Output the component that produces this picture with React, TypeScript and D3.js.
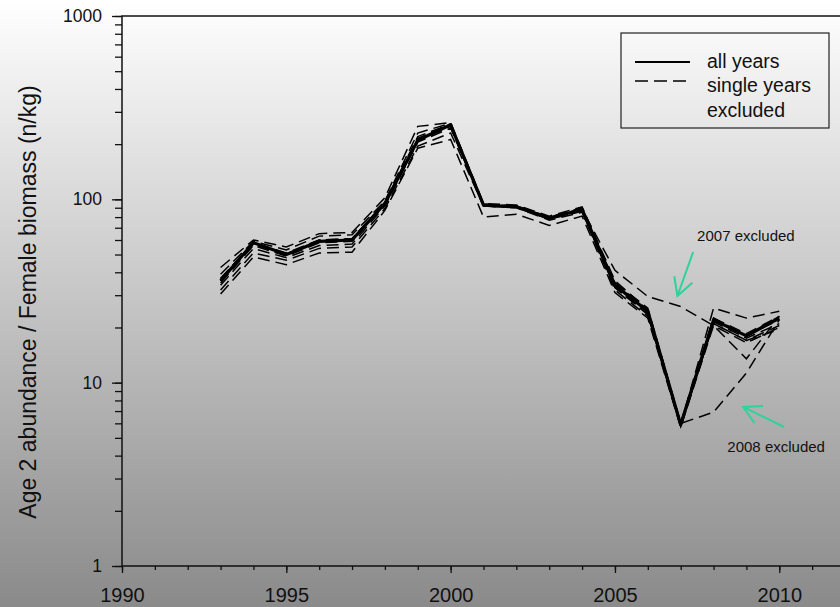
import React, { useEffect, useRef } from "react";
import * as d3 from "d3";

// survey years
const years = [1993, 1994, 1995, 1996, 1997, 1998, 1999, 2000, 2001, 2002, 2003, 2004, 2005, 2006, 2007, 2008, 2009, 2010];

// index using all years
const allYears = [36, 58, 50, 59, 60, 95, 210, 255, 93, 91, 79, 88, 34, 24.5, 5.9, 22, 18, 22.5];

// index with one year left out at a time
const exA = [42.5, 60, 55, 65, 66, 102, 250, 262, 95, 93, 81, 91, 36, 25, 6.0, 22.5, 18.5, 23];
const exB = [39, 59, 53, 63, 64, 98, 230, 260, 94, 92, 80, 90, 35, 25, 6.0, 22, 18, 22];
const exC = [37, 58, 51, 60, 61, 96, 220, 258, 94, 92, 80, 89, 35, 24.5, 6.0, 22.5, 18, 23];
const exD = [34, 54, 48, 56, 57, 92, 205, 245, 93, 91, 78, 87, 33, 24, 5.8, 21.5, 17.5, 21];
const exE = [32, 51, 46.5, 54, 55, 89, 195, 230, 92, 90, 77, 85, 32, 23, 5.8, 21, 17, 20.5];
const exF = [30.5, 48.5, 44, 51, 51.5, 87, 190, 212, 80, 83, 72, 81, 31, 22.5, 5.7, 20.5, 16.5, 20];
const exG = [35, 56, 49, 58, 59, 94, 208, 250, 92, 90, 78, 86, 33, 23.5, 5.8, 21, 17, 19.5];
const excl2007 = [37, 58, 50, 60, 61, 96, 215, 255, 94, 91, 79, 88, 41, 29.5, 26, 20.5, 13.5, 23];
const excl2008 = [36, 57, 50, 59, 60, 95, 212, 252, 93, 91, 79, 87, 35, 25.5, 6.0, 6.9, 11.3, 22];
const excl2009 = [36, 57, 50, 59, 60, 95, 210, 255, 93, 91, 79, 87, 34, 24, 5.9, 25.5, 22.5, 24.5];

const dashedSeries = [exA, exB, exC, exD, exE, exF, exG, excl2007, excl2008, excl2009];

// axis labels
const xTickLabels = [1990, 1995, 2000, 2005, 2010];
const yTickLabels = [1, 10, 100, 1000];

// annotations: [text, text year, text value, arrow tail year, tail value, tip year, tip value]
const notes: [string, number, number, number, number, number, number][] = [
  ["2007 excluded", 2007.5, 59, 2007.38, 51.6, 2006.9, 29.7],
  ["2008 excluded", 2008.42, 4.19, 2010.15, 5.73, 2008.9, 7.37],
];

const W = 840;
const H = 607;
const FONT = "'Liberation Sans', Arial, sans-serif";

export default function App() {
  const ref = useRef<SVGSVGElement>(null);

  useEffect(() => {
    const svg = d3.select(ref.current);
    svg.selectAll("*").remove();

    const left = 122;
    const top = 16;
    const bottom = 566;

    const x = d3.scaleLinear().domain([1990, 2012]).range([left, 845]);
    const y = d3.scaleLog().domain([1, 1000]).range([bottom, top]);

    // background gradient
    const grad = svg
      .append("defs")
      .append("linearGradient")
      .attr("id", "bg")
      .attr("x1", 0)
      .attr("y1", 0)
      .attr("x2", 0)
      .attr("y2", 1);
    grad.append("stop").attr("offset", "0%").attr("stop-color", "#ffffff");
    grad.append("stop").attr("offset", "100%").attr("stop-color", "#8a8a8a");
    svg.append("rect").attr("width", W).attr("height", H).attr("fill", "url(#bg)");

    // frame
    svg
      .append("path")
      .attr("d", `M${x(2012)},${top}H${left}V${bottom}H${x(2012)}`)
      .attr("fill", "none")
      .attr("stroke", "#111")
      .attr("stroke-width", 1.5);

    // x ticks
    const minorX = svg
      .append("g")
      .attr("transform", `translate(0,${bottom})`)
      .call(d3.axisBottom(x).tickValues(d3.range(1990, 2013)).tickSize(4).tickFormat(() => ""));
    const majorX = svg
      .append("g")
      .attr("transform", `translate(0,${bottom})`)
      .call(d3.axisBottom(x).tickValues(xTickLabels).tickSize(7).tickPadding(15).tickFormat(d3.format("d")));
    [minorX, majorX].forEach((g) => {
      g.select(".domain").remove();
      g.selectAll(".tick line").attr("stroke", "#111").attr("stroke-width", 1.3);
    });
    majorX
      .selectAll("text")
      .attr("fill", "#111")
      .style("font-family", FONT)
      .style("font-size", "20px");

    // y ticks
    const minorY = svg
      .append("g")
      .attr("transform", `translate(${left},0)`)
      .call(d3.axisLeft(y).tickValues(y.ticks()).tickSize(7).tickFormat(() => ""));
    const majorY = svg
      .append("g")
      .attr("transform", `translate(${left},0)`)
      .call(d3.axisLeft(y).tickValues(yTickLabels).tickSize(10).tickPadding(10).tickFormat(d3.format("d")));
    [minorY, majorY].forEach((g) => {
      g.select(".domain").remove();
      g.selectAll(".tick line").attr("stroke", "#111").attr("stroke-width", 1.3);
    });
    majorY
      .selectAll("text")
      .attr("fill", "#111")
      .style("font-family", FONT)
      .style("font-size", "17.5px");

    // y title
    svg
      .append("text")
      .attr("transform", `translate(36,${302}) rotate(-90)`)
      .attr("text-anchor", "middle")
      .attr("fill", "#111")
      .style("font-family", FONT)
      .style("font-size", "23px")
      .text("Age 2 abundance / Female biomass (n/kg)");

    const line = d3
      .line<number>()
      .x((d, i) => x(years[i]))
      .y((d) => y(d));

    svg
      .append("g")
      .selectAll("path")
      .data(dashedSeries)
      .join("path")
      .attr("d", (d) => line(d))
      .attr("fill", "none")
      .attr("stroke", "#000")
      .attr("stroke-width", 1.5)
      .attr("stroke-dasharray", "12,6");

    svg
      .append("path")
      .datum(allYears)
      .attr("d", line)
      .attr("fill", "none")
      .attr("stroke", "#000")
      .attr("stroke-width", 3.2)
      .attr("stroke-linejoin", "round");

    // annotations with teal arrows
    notes.forEach(([label, tx, ty, ax0, ay0, ax1, ay1]) => {
      svg
        .append("text")
        .attr("x", x(tx))
        .attr("y", y(ty))
        .attr("fill", "#111")
        .style("font-family", FONT)
        .style("font-size", "15px")
        .text(label);

      const x0 = x(ax0), y0 = y(ay0), x1 = x(ax1), y1 = y(ay1);
      const ang = Math.atan2(y1 - y0, x1 - x0);
      const len = 20;
      const hx = (a: number) => x1 - len * Math.cos(ang + a);
      const hy = (a: number) => y1 - len * Math.sin(ang + a);
      svg
        .append("path")
        .attr("d", `M${x0},${y0}L${x1},${y1}M${hx(0.5)},${hy(0.5)}L${x1},${y1}L${hx(-0.5)},${hy(-0.5)}`)
        .attr("fill", "none")
        .attr("stroke", "#2fd29b")
        .attr("stroke-width", 2);
    });

    // legend
    const lg = svg.append("g");
    lg.append("rect")
      .attr("x", 621)
      .attr("y", 33)
      .attr("width", 208)
      .attr("height", 95)
      .attr("fill", "none")
      .attr("stroke", "#222")
      .attr("stroke-width", 1.2);
    lg.append("line")
      .attr("x1", 635).attr("x2", 690).attr("y1", 62).attr("y2", 62)
      .attr("stroke", "#000").attr("stroke-width", 2);
    lg.append("line")
      .attr("x1", 635).attr("x2", 690).attr("y1", 81).attr("y2", 81)
      .attr("stroke", "#000").attr("stroke-width", 1.5).attr("stroke-dasharray", "13,6");
    ["all years", "single years", "excluded"].forEach((t, i) => {
      lg.append("text")
        .attr("x", 707)
        .attr("y", 67.5 + i * 24.5)
        .attr("fill", "#111")
        .style("font-family", FONT)
        .style("font-size", "19.5px")
        .text(t);
    });
  }, []);

  return (
    <svg
      ref={ref}
      width={W}
      height={H}
      style={{ position: "absolute", left: 0, top: 0, display: "block" }}
    />
  );
}
